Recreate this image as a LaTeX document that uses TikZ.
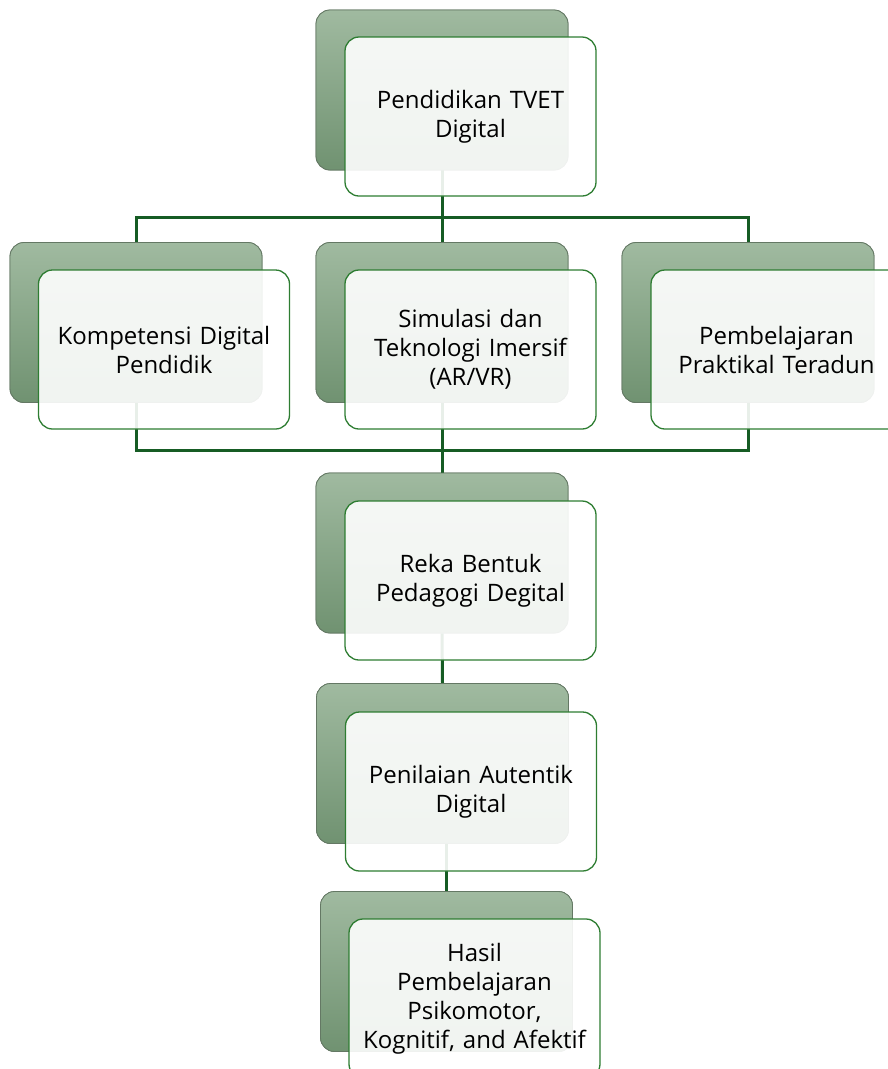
\documentclass[tikz,border=0pt]{standalone}
\usepackage{fontspec}
\setmainfont{Open Sans}
\definecolor{linegreen}{RGB}{22,92,36}
\definecolor{frontborder}{RGB}{46,125,50}
\definecolor{backtop}{RGB}{160,186,160}
\definecolor{backbot}{RGB}{112,146,113}
\definecolor{backedge}{RGB}{100,120,100}
\begin{document}
\begin{tikzpicture}[x=1pt,y=-1pt,
  backbox/.style={rectangle, rounded corners=14pt, minimum width=252pt, minimum height=160pt,
    top color=backtop, bottom color=backbot, draw=backedge, line width=0.8pt, inner sep=0pt},
  frontbox/.style={rectangle, rounded corners=14pt, minimum width=251pt, minimum height=159pt,
    fill=white, fill opacity=0.9, text opacity=1, draw=frontborder, line width=1.3pt,
    align=center, text width=240pt, inner sep=0pt,
    font=\fontsize{24pt}{29pt}\selectfont},
  conn/.style={draw=linegreen, line width=3pt}
]
\useasboundingbox (0,0) rectangle (888,1069);
\clip (0,0) rectangle (888,1069);
% back boxes (first pass, to define anchors)
\node[backbox] (tb) at (442,90) {};
\node[backbox] (kb) at (136,322.5) {};
\node[backbox] (sb) at (442,322.5) {};
\node[backbox] (pb) at (748,322.5) {};
\node[backbox] (rb) at (442,553) {};
\node[backbox] (nb) at (442.5,763.5) {};
\node[backbox] (hb) at (446.5,971.5) {};
% connectors
\coordinate (j1) at (442,217);
\coordinate (j2) at (442,450);
\draw[conn] (tb.south) -- (j1);
\draw[conn] (j1) -| (kb.north);
\draw[conn] (j1) -| (pb.north);
\draw[conn] (j1) -- (sb.north);
\draw[conn] (kb.south) |- (j2);
\draw[conn] (pb.south) |- (j2);
\draw[conn] (sb.south) -- (rb.north);
\draw[conn] (rb.south) -- (nb.north);
\draw[conn] (hb.north) -- (hb.north |- nb.south);
% redraw back boxes over connectors
\node[backbox] at (tb) {};
\node[backbox] at (kb) {};
\node[backbox] at (sb) {};
\node[backbox] at (pb) {};
\node[backbox] at (rb) {};
\node[backbox] at (nb) {};
\node[backbox] at (hb) {};
% front boxes
\node[frontbox] (tf) at (470.5,116.5) {Pendidikan TVET\\Digital};
\node[frontbox] (kf) at (164,349.5) {Kompetensi Digital\\Pendidik};
\node[frontbox] (sf) at (470.5,349.5) {Simulasi dan\\Teknologi Imersif\\(AR/VR)};
\node[frontbox] (pf) at (776.5,349.5) {Pembelajaran\\Praktikal Teradun};
\node[frontbox] (rf) at (470.5,580.5) {Reka Bentuk\\Pedagogi Degital};
\node[frontbox] (nf) at (471,791.5) {Penilaian Autentik\\Digital};
\node[frontbox] (hf) at (474.5,998.5) {Hasil\\Pembelajaran\\Psikomotor,\\Kognitif, and Afektif};
\end{tikzpicture}
\end{document}
